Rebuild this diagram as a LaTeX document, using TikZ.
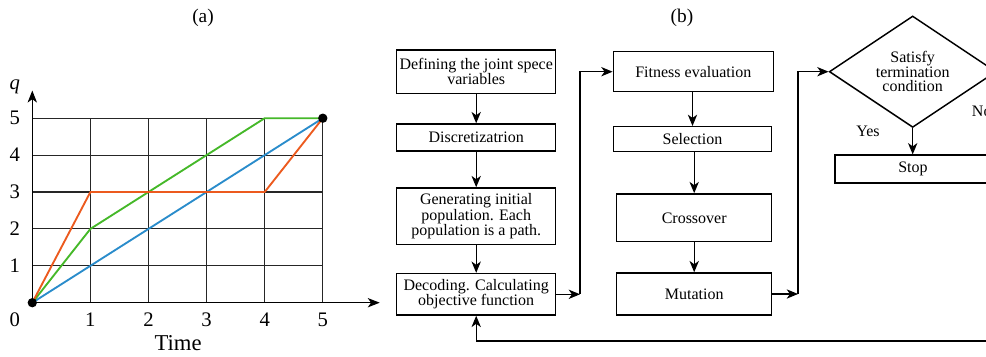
\documentclass[tikz,border=0pt]{standalone}
\usepackage{fontspec}
\setmainfont{Liberation Serif}
\usetikzlibrary{shapes.geometric,arrows.meta}
\definecolor{cblue}{HTML}{2A8CCB}
\definecolor{corange}{HTML}{EC5A1E}
\definecolor{cgreen}{HTML}{45B829}
\begin{document}
\begin{tikzpicture}[x=0.75pt,y=-0.75pt,
  box/.style={draw, line width=1.1pt, align=center, inner sep=1pt,
    font=\fontsize{12}{11.5}\selectfont},
  arr/.style={line width=0.8pt, -{Stealth[length=8.5pt,width=7pt,inset=2.5pt]}},
  gridline/.style={line width=0.8pt, black!85},
  axisarr/.style={line width=0.8pt, -{Stealth[length=9pt,width=7pt,inset=2.5pt]}},
  curve/.style={line width=1.4pt, line join=round},
  dot/.style={circle, fill=black, inner sep=0pt, minimum size=7pt},
  lab/.style={font=\fontsize{15.5}{16}\selectfont, inner sep=0pt},
  captext/.style={font=\fontsize{14.5}{15}\selectfont, inner sep=0pt},
  ftext/.style={font=\fontsize{12}{11.5}\selectfont, inner sep=0pt}]
\useasboundingbox (0,0) rectangle (986,357);
\clip (0,0) rectangle (986,357);

% captions
\node[captext] (capa) at (203,18) {(a)};
\node[captext] (capb) at (682,18) {(b)};

% ---------- plot (a)
\begin{scope}[shift={(32.3,302.7)}, x=43.575pt, y=27.675pt]
  \foreach \i in {1,...,5} {
    \draw[gridline] (\i,0) -- (\i,5);
    \draw[gridline] (0,\i) -- (5,\i);
  }
  \coordinate (o) at (0,0);
  \coordinate (xend) at (5.98,0);
  \coordinate (yend) at (0,5.75);
  \draw[axisarr] (o) -- (xend);
  \draw[axisarr] (o) -- (yend);
  \draw[curve, cblue] (0,0) -- (5,5);
  \draw[curve, cgreen] (0,0) -- (1,2) -- (4,5) -- (5,5);
  \draw[curve, corange] (0,0) -- (1,3) -- (4,3) -- (5,5);
  \node[dot] (d0) at (0,0) {};
  \node[dot] (d5) at (5,5) {};
  \foreach \i in {1,...,5} {
    \node[lab] (yl\i) at (-0.3,\i) {\i};
    \node[lab] (xl\i) at (\i,-0.47) {\i};
  }
  \node[lab] (zero) at (-0.3,-0.47) {0};
  \node[font=\fontsize{17}{18}\selectfont, inner sep=0pt] (time) at (2.51,-1.09) {Time};
  \node[lab] (qlab) at (-0.3,5.85) {\textit{q}};
\end{scope}

% ---------- flowchart (b)
\node[box, minimum width=119.25pt, minimum height=32.5pt] (b1) at (476.2,71.7)
  {Defining the joint spece\\variables};
\node[box, minimum width=119.25pt, minimum height=20.25pt] (b2) at (476.2,137.5)
  {Discretizatrion};
\node[box, minimum width=119.25pt, minimum height=42.5pt] (b3) at (476.2,216.3)
  {Generating initial\\population. Each\\population is a path.};
\node[box, minimum width=119.25pt, minimum height=31.1pt] (b4) at (476.2,294.3)
  {Decoding. Calculating\\objective function};

\node[box, minimum width=120pt, minimum height=30pt] (fit) at (693.3,71.7)
  {Fitness evaluation};
\node[box, minimum width=118.5pt, minimum height=18.75pt] (sel) at (692.5,139.2)
  {Selection};
\node[box, minimum width=116.25pt, minimum height=35.8pt] (cro) at (694.2,217.8)
  {Crossover};
\node[box, minimum width=116.25pt, minimum height=31.5pt] (mut) at (694.2,294)
  {Mutation};

\node[draw, line width=1.1pt, diamond, aspect=1.5, inner sep=0pt,
  minimum width=125.1pt, minimum height=83.55pt, align=center,
  font=\fontsize{12}{10.8}\selectfont] (dia) at (912.7,71.7)
  {Satisfy\\termination\\condition};
\node[box, minimum width=117pt, minimum height=20.8pt] (stop) at (913,169)
  {Stop};
\node[ftext] (yes) at (868,131) {Yes};
\node[ftext, anchor=west] (no) at (971.7,111.5) {No};

\coordinate (c1) at (580,294.3);
\coordinate (c2) at (798,294);
\coordinate (c3) at (1005,71.7);
\coordinate (c4) at (1005,341);

\draw[arr] (b1) -- (b2);
\draw[arr] (b2) -- (b3);
\draw[arr] (b3) -- (b4);
\draw[arr] (b4.east) -- (c1);
\draw[arr] (c1) |- (fit.west);
\draw[arr] (fit.south -| sel.north) -- (sel.north);
\draw[arr] (sel.south -| cro.north) -- (cro.north);
\draw[arr] (cro) -- (mut);
\draw[arr] (mut.east) -- (c2);
\draw[arr] (c2) |- (dia.west);
\draw[arr] (dia.south) -- (stop.north -| dia.south);
\draw[arr] (dia.east) -- (c3) -- (c4) -| (b4.south);
\end{tikzpicture}
\end{document}
